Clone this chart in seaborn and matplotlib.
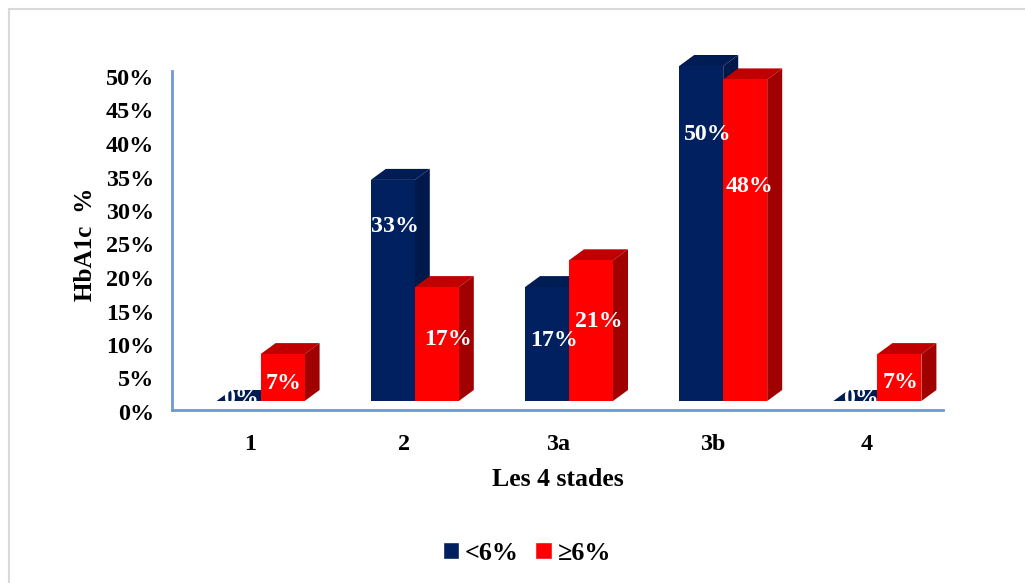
import matplotlib
matplotlib.use("Agg")
import matplotlib.pyplot as plt
from matplotlib.patches import Polygon, Rectangle
from matplotlib.transforms import ScaledTranslation
import pandas as pd
import seaborn as sns

# Data
stages = ["1", "2", "3a", "3b", "4"]
low_hba1c = [0, 33, 17, 50, 0]
high_hba1c = [7, 17, 21, 48, 7]
series_names = ["<6%", "≥6%"]
y_ticks = [0, 5, 10, 15, 20, 25, 30, 35, 40, 45, 50]
y_title = "HbA1c  %"
x_title = "Les 4 stades"

W, H = 1025, 583
sns.set_theme(style="white")
plt.rcParams["font.family"] = ["Liberation Serif", "DejaVu Serif"]
plt.rcParams["font.weight"] = "bold"

NAVY = {"front": "#002060", "top": "#001C55", "side": "#00184A"}
RED = {"front": "#FF0000", "top": "#C00000", "side": "#A00000"}
AXIS_BLUE = "#7397D6"
FS = 17.4

df = pd.DataFrame({
    "stage": stages * 2,
    "value": low_hba1c + high_hba1c,
    "group": [series_names[0]] * len(stages) + [series_names[1]] * len(stages),
})

fig = plt.figure(figsize=(W / 100, H / 100), dpi=100, facecolor="white")
fig.add_artist(Rectangle((8.5 / W, 1 - 640 / H), 1040 / W, 631 / H, transform=fig.transFigure,
                         fill=False, edgecolor="#D9D9D9", linewidth=1.5))


def px_axes(left, right, top, bottom):
    return fig.add_axes([left / W, 1 - bottom / H, (right - left) / W, (bottom - top) / H])


# Axis frame with lines and labels, sitting slightly in front of the bar floor
frame = px_axes(172, 943, 71, 410)
frame.set_xlim(-0.5, 4.5)
frame.set_ylim(0, 339 / 6.7)
frame.set_xticks(range(len(stages)), stages)
frame.set_yticks(y_ticks, [f"{t}%" for t in y_ticks])
frame.tick_params(axis="both", length=0, labelsize=FS, labelcolor="black")
frame.tick_params(axis="x", pad=17)
frame.tick_params(axis="y", pad=13)
shift_down = ScaledTranslation(0, -2 / 100, fig.dpi_scale_trans)
shift_right = ScaledTranslation(1 / 100, 0, fig.dpi_scale_trans)
for label in frame.get_yticklabels():
    label.set_transform(label.get_transform() + shift_down)
for label in frame.get_xticklabels():
    label.set_transform(label.get_transform() + shift_right)
for side in ("top", "right"):
    frame.spines[side].set_visible(False)
for side in ("left", "bottom"):
    frame.spines[side].set_color(AXIS_BLUE)
    frame.spines[side].set_linewidth(2)
frame.set_xlabel(x_title, fontsize=18.5, fontweight="bold", color="black", labelpad=10)
frame.set_ylabel(y_title, fontsize=18.2, fontweight="bold", color="black")
frame.yaxis.set_label_coords(-0.097, 0.49)

# Plot area holding the bars
ax = px_axes(183.5, 954.5, 61, 401)
ax.patch.set_alpha(0)
sns.barplot(data=df, x="stage", y="value", hue="group", order=stages, hue_order=series_names,
            palette=[NAVY["front"], RED["front"]], width=88 / 154.2, gap=0, saturation=1,
            ax=ax, legend=True, zorder=2)
ax.set_xlim(-0.5, 4.5)
ax.set_ylim(0, 340 / 6.7)
ax.axis("off")

# Extruded faces of each bar
depth_x = 15 / 154.2
depth_y = 11 / 6.7
for container, shades, level in zip(ax.containers, (NAVY, RED), (2, 4)):
    for bar in container:
        x0, x1 = bar.get_x(), bar.get_x() + bar.get_width()
        top = bar.get_height()
        bar.set_zorder(level + 0.5)
        bar.set_linewidth(0)
        ax.add_patch(Polygon([(x0, top), (x1, top), (x1 + depth_x, top + depth_y), (x0 + depth_x, top + depth_y)],
                             closed=True, facecolor=shades["top"], edgecolor="none", zorder=level,
                             clip_on=False))
        ax.add_patch(Polygon([(x1, 0), (x1 + depth_x, depth_y), (x1 + depth_x, top + depth_y), (x1, top)],
                             closed=True, facecolor=shades["side"], edgecolor="none", zorder=level,
                             clip_on=False))

# Value labels, each nudged by hand from the top centre of its bar (pixels)
nudges = [
    [(2, 3), (2, -47), (7, -53), (7, -69), (6, 3)],
    [(1, -29), (11, -52), (8, -61), (4, -107), (1, -28)],
]
for container, nudge_row in zip(ax.containers, nudges):
    for bar, (dx, dy) in zip(container, nudge_row):
        ax.annotate(f"{bar.get_height():.0f}%",
                    (bar.get_x() + bar.get_width() / 2, bar.get_height()),
                    xytext=(dx * 0.72, dy * 0.72), textcoords="offset points",
                    ha="center", va="center", color="white", fontsize=17.2, fontweight="bold",
                    zorder=6, annotation_clip=False)

# Legend below the chart
handles, labels = ax.get_legend_handles_labels()
ax.get_legend().remove()
fig.legend(handles, labels, loc="center", bbox_to_anchor=(527 / W, 1 - 553 / H), ncol=2, frameon=False,
           fontsize=18.8, handlelength=0.62, handleheight=0.62, handletextpad=0.235, columnspacing=0.62,
           borderpad=0, labelcolor="black")

fig.savefig("out.png", dpi=100, facecolor="white")
